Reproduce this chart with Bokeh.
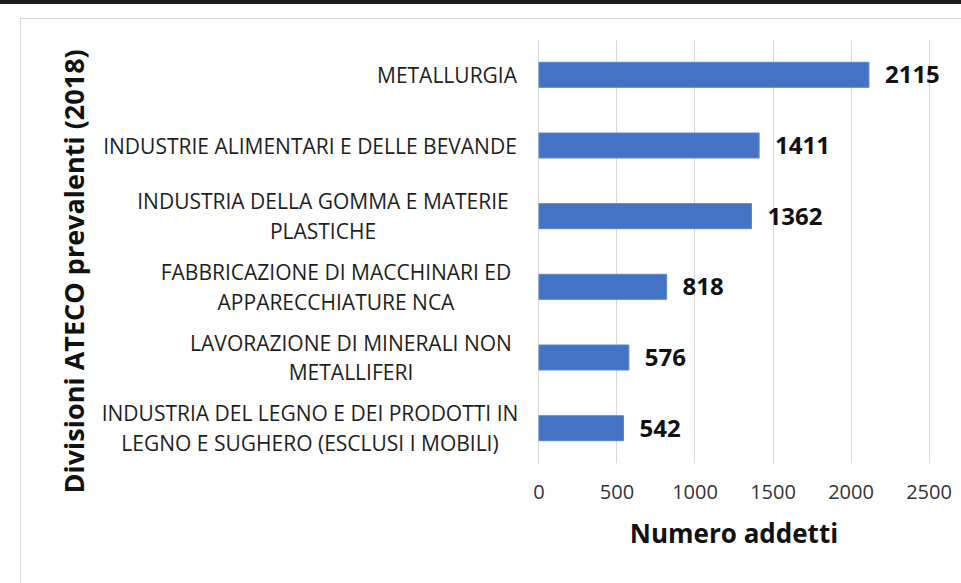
from bokeh.plotting import figure
from bokeh.models import ColumnDataSource, FixedTicker, FactorRange, Range1d, Title
from bokeh.core.properties import value
from bokeh.layouts import row, column
from bokeh.embed import file_html
from bokeh.resources import INLINE

# ---- data ----
categories = [
    "METALLURGIA",
    "INDUSTRIE ALIMENTARI E DELLE BEVANDE",
    "INDUSTRIA DELLA GOMMA E MATERIE PLASTICHE",
    "FABBRICAZIONE DI MACCHINARI ED APPARECCHIATURE NCA",
    "LAVORAZIONE DI MINERALI NON METALLIFERI",
    "INDUSTRIA DEL LEGNO E DEI PRODOTTI IN LEGNO E SUGHERO (ESCLUSI I MOBILI)",
]
category_labels = [
    "METALLURGIA",
    "INDUSTRIE ALIMENTARI E DELLE BEVANDE",
    "INDUSTRIA DELLA GOMMA E MATERIE\nPLASTICHE",
    "FABBRICAZIONE DI MACCHINARI ED\nAPPARECCHIATURE NCA",
    "LAVORAZIONE DI MINERALI NON\nMETALLIFERI",
    "INDUSTRIA DEL LEGNO E DEI PRODOTTI IN\nLEGNO E SUGHERO (ESCLUSI I MOBILI)",
]
addetti = [2115, 1411, 1362, 818, 576, 542]
x_ticks = [0, 500, 1000, 1500, 2000, 2500]
x_title = "Numero addetti"
y_title = "Divisioni ATECO prevalenti (2018)"

# ---- style: pixel offsets (from the bars' zero line) of the centred label blocks ----
label_dx = [-92, -229, -216, -203, -188, -229]

FONT = "Open Sans"
H = 564
TOP = 20
FRAME_H = 424

y_range = FactorRange(factors=list(reversed(categories)))

source = ColumnDataSource(dict(
    cat=categories,
    label=category_labels,
    val=addetti,
    val_text=[str(v) for v in addetti],
    dx=label_dx,
))

# ---------- left panel: y title + category labels ----------
p1 = figure(
    width=505, height=H, y_range=y_range, x_range=Range1d(-443.5, -12.5),
    output_backend="svg", toolbar_location=None,
    min_border_left=74, min_border_right=0,
    min_border_top=TOP, min_border_bottom=H - TOP - FRAME_H,
)
p1.outline_line_color = None
p1.xaxis.visible = False
p1.yaxis.visible = False
p1.xgrid.grid_line_color = None
p1.ygrid.grid_line_color = None

p1.add_layout(Title(
    text=y_title, align="left", offset=-30, standoff=8,
    text_font=FONT, text_font_size="27px", text_font_style="bold",
    text_color="#111111",
), "left")

p1.text(x="dx", y="cat", text="label", source=source,
        text_align="center", text_baseline="middle",
        text_font=value(FONT), text_font_size=value("21px"),
        text_color="#1e1e1e", text_line_height=1.07)

# ---------- right panel: bars ----------
p2 = figure(
    width=435, height=H, y_range=y_range, x_range=Range1d(-80, 2580),
    output_backend="svg", toolbar_location=None,
    min_border_left=0, min_border_right=20,
    min_border_top=TOP, min_border_bottom=H - TOP - FRAME_H,
)
p2.outline_line_color = None
p2.yaxis.visible = False

p2.hbar(y="cat", right="val", left=0, height=0.354, source=source,
        fill_color="#4472C4", line_color="#5B86D2", line_width=1)

xa = p2.xaxis[0]
xa.ticker = FixedTicker(ticks=x_ticks)
xa.axis_line_color = None
xa.major_tick_line_color = None
xa.minor_tick_line_color = None
xa.major_tick_out = 0
xa.major_tick_in = 0
xa.major_label_standoff = 21
xa.major_label_text_font = FONT
xa.major_label_text_font_size = "20px"
xa.major_label_text_color = "#333333"
xa.axis_label = x_title
xa.axis_label_text_font = FONT
xa.axis_label_text_font_size = "26px"
xa.axis_label_text_font_style = "bold"
xa.axis_label_text_color = "#111111"
xa.axis_label_standoff = 13

p2.xgrid.grid_line_color = "#D9D9D9"
p2.xgrid.grid_line_width = 1
p2.ygrid.grid_line_color = None

p2.text(x="val", y="cat", text="val_text", source=source,
        x_offset=16, text_align="left", text_baseline="middle",
        text_font=value(FONT), text_font_size=value("24px"),
        text_font_style="bold", text_color="#111111")

chart = row(p1, p2, margin=(14, 0, 0, 20), styles={
    "border-left": "1px solid #D6D6D6", "border-top": "1px solid #D6D6D6",
})
layout = column(chart, styles={"border-top": "4px solid #1c1c1c"})

open("out.html", "w").write(file_html(layout, INLINE))
